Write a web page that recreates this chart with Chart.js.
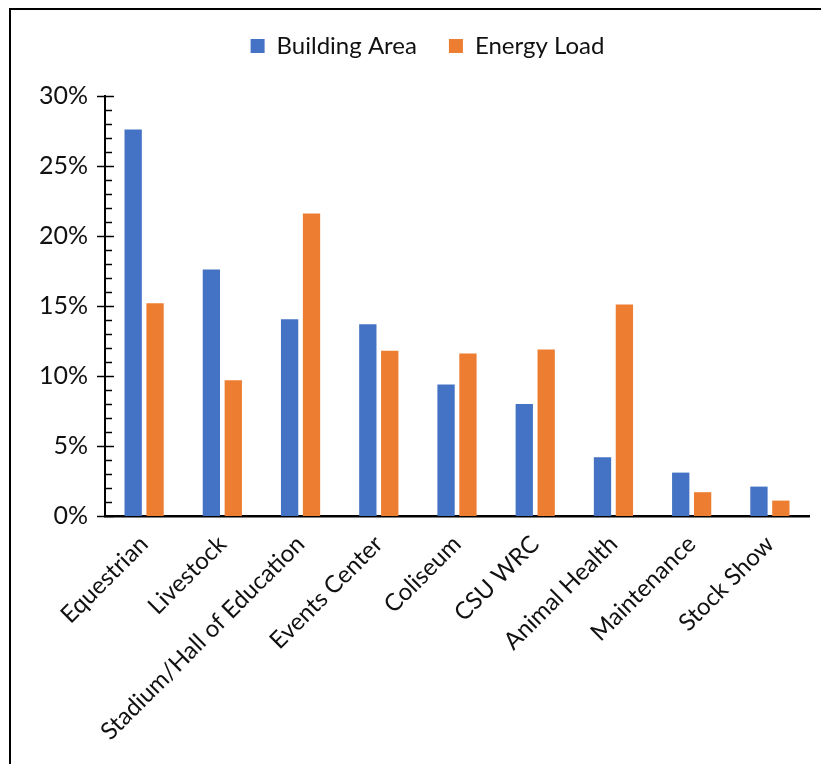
<!DOCTYPE html>
<html>
<head>
<meta charset="utf-8">
<script src="https://cdn.jsdelivr.net/npm/chart.js@4.4.1/dist/chart.umd.min.js"></script>
<style>
  html, body { margin: 0; padding: 0; background: #fff; overflow: hidden; }
  #wrap { position: absolute; left: 0; top: 0; width: 821px; height: 764px; }
</style>
</head>
<body>
<div id="wrap"><canvas id="chart"></canvas></div>
<script>
// Share of site total (%)
const categories = [
  'Equestrian', 'Livestock', 'Stadium/Hall of Education', 'Events Center',
  'Coliseum', 'CSU WRC', 'Animal Health', 'Maintenance', 'Stock Show'
];
const buildingArea = [27.6, 17.6, 14.05, 13.7, 9.4, 8.0, 4.2, 3.1, 2.1];
const energyLoad   = [15.2, 9.7, 21.6, 11.8, 11.6, 11.9, 15.1, 1.7, 1.1];
const yTicks = [0, 5, 10, 15, 20, 25, 30];

const BLUE = '#4472c4';
const ORANGE = '#ed7d31';
const FONT = 'Lato, "Open Sans", sans-serif';

// chart frame: only the left and top edges fall inside the picture
const frame = {
  id: 'frame',
  afterDraw(chart) {
    const ctx = chart.ctx;
    ctx.save();
    ctx.strokeStyle = '#000';
    ctx.lineWidth = 2;
    ctx.beginPath();
    ctx.moveTo(10, chart.height);
    ctx.lineTo(10, 9);
    ctx.lineTo(chart.width, 9);
    ctx.stroke();
    ctx.restore();
  }
};

// Excel-style cross ticks on the value axis (major every 5%, minor every 1%)
const axisTicks = {
  id: 'axisTicks',
  afterDraw(chart) {
    const y = chart.scales.y;
    const x0 = chart.chartArea.left;
    const ctx = chart.ctx;
    ctx.save();
    ctx.strokeStyle = '#000';
    ctx.lineWidth = 1.5;
    for (let v = yTicks[0]; v <= yTicks[yTicks.length - 1]; v++) {
      const py = Math.round(y.getPixelForValue(v)) + 0.5;
      const major = yTicks.includes(v);
      ctx.beginPath();
      ctx.moveTo(major ? x0 - 8 : x0, py);
      ctx.lineTo(x0 + (major ? 9 : 7), py);
      ctx.stroke();
    }
    ctx.restore();
  }
};

// fix legend block height so the plot starts where the reference does,
// and centre it on the whole frame rather than the plot box
const legendPlace = {
  id: 'legendPlace',
  beforeInit(chart) {
    const fit = chart.legend.fit;
    chart.legend.fit = function () {
      fit.bind(chart.legend)();
      this.height = 96 - 2;
    };
  },
  afterLayout(chart) {
    chart.legend.left += 23;
    chart.legend.right += 23;
  }
};

new Chart(document.getElementById('chart'), {
  type: 'bar',
  data: {
    labels: categories,
    datasets: [
      { label: 'Building Area', data: buildingArea, backgroundColor: BLUE },
      { label: 'Energy Load', data: energyLoad, backgroundColor: ORANGE },
    ]
  },
  options: {
    responsive: true,
    maintainAspectRatio: false,
    animation: false,
    categoryPercentage: 0.56,
    barPercentage: 0.79,
    layout: { padding: { left: 0, right: 12, top: 2, bottom: 0 } },
    plugins: {
      legend: {
        position: 'top',
        align: 'center',
        labels: {
          color: '#111',
          font: { family: FONT, size: 24 },
          boxWidth: 14,
          boxHeight: 14,
          padding: 32,
        }
      },
      tooltip: { enabled: false },
    },
    scales: {
      x: {
        grid: { display: false, drawTicks: false },
        border: { color: '#000', width: 2.5 },
        ticks: {
          color: '#111',
          font: { family: FONT, size: 24 },
          minRotation: 45,
          maxRotation: 45,
          padding: 14,
          autoSkip: false,
        },
        afterFit(scale) { scale.height = 764 - 516; }
      },
      y: {
        min: 0,
        max: 30,
        afterBuildTicks(scale) { scale.ticks = yTicks.map(v => ({ value: v })); },
        grid: { display: false, drawTicks: false },
        border: { color: '#000', width: 2 },
        ticks: {
          color: '#111',
          font: { family: FONT, size: 25 },
          padding: 17,
          callback: v => v + '%',
        },
        afterFit(scale) { scale.width = 105; }
      }
    }
  },
  plugins: [axisTicks, legendPlace, frame]
});
</script>
</body>
</html>
